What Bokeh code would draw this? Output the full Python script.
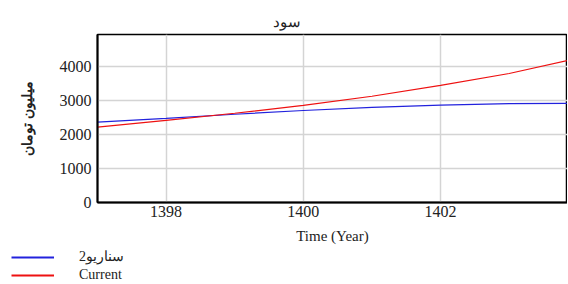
from bokeh.plotting import figure
from bokeh.models import Legend, LegendItem, FixedTicker, Range1d, Title
from bokeh.layouts import column, row
from bokeh.embed import file_html
from bokeh.resources import INLINE

years = [1397, 1398, 1399, 1400, 1401, 1402, 1403, 1404]
scenario2 = [2370, 2480, 2600, 2710, 2800, 2870, 2915, 2920]
current = [2220, 2420, 2630, 2860, 3130, 3450, 3800, 4250]
x_ticks = [1398, 1400, 1402]
y_ticks = [0, 1000, 2000, 3000, 4000]
title_text = "سود"
y_label = "میلیون تومان"
x_label = "Time (Year)"
series_names = ["سناریو2", "Current"]
series_colors = ["#2222dd", "#ee1111"]

FONT = "Liberation Serif"

p = figure(width=567, height=250, output_backend="svg", toolbar_location=None,
           x_range=Range1d(1397, 1403.85), y_range=Range1d(0, 4950),
           min_border_left=97, min_border_right=0, min_border_top=34, min_border_bottom=48)
p.title = None
t = Title(text=title_text, align="left", offset=175, text_font=FONT,
          text_font_size="15px", text_font_style="normal", text_color="#222222")
p.add_layout(t, "above")

p.line(years, scenario2, line_color=series_colors[0], line_width=1.2)
p.line(years, current, line_color=series_colors[1], line_width=1.2)

p.xaxis.ticker = FixedTicker(ticks=x_ticks)
p.yaxis.ticker = FixedTicker(ticks=y_ticks)
for ax in (p.xaxis[0], p.yaxis[0]):
    ax.major_tick_in = 0
    ax.major_tick_out = 0
    ax.minor_tick_in = 0
    ax.minor_tick_out = 0
    ax.axis_line_width = 2
    ax.axis_line_color = "black"
    ax.major_label_text_font = FONT
    ax.major_label_text_font_size = "16px"
    ax.major_label_text_color = "#222222"
    ax.axis_label_text_font = FONT
    ax.axis_label_text_font_style = "normal"
    ax.axis_label_text_color = "#222222"

p.xaxis.axis_label = x_label
p.xaxis.axis_label_text_font_size = "15px"
p.xaxis.major_label_standoff = 3
p.xaxis.axis_label_standoff = 8
p.yaxis.axis_label = y_label
p.yaxis.axis_label_text_font_size = "14px"
p.yaxis.axis_label_text_font_style = "bold"
p.yaxis.major_label_standoff = 6
p.yaxis.axis_label_standoff = 22

p.xgrid.grid_line_color = "#d4d4d4"
p.ygrid.grid_line_color = "#d4d4d4"
p.xgrid.grid_line_width = 1.5
p.ygrid.grid_line_width = 1.5
p.outline_line_color = "black"
p.outline_line_width = 1.5

# legend strip below the chart (series drawn out of its visible range)
lg = figure(width=567, height=33, output_backend="svg", toolbar_location=None,
            x_range=Range1d(0, 1), y_range=Range1d(0, 1),
            min_border_left=0, min_border_right=0, min_border_top=0, min_border_bottom=0,
            x_axis_type=None, y_axis_type=None)
lg.title = None
lg.grid.visible = False
lg.outline_line_color = None
d1 = lg.line(years, scenario2, line_color=series_colors[0], line_width=2)
d2 = lg.line(years, current, line_color=series_colors[1], line_width=2)
legend = Legend(items=[LegendItem(label=series_names[0], renderers=[d1]),
                       LegendItem(label=series_names[1], renderers=[d2])],
                location=(11, 0), orientation="vertical",
                glyph_width=43, glyph_height=14, label_height=14, label_standoff=25,
                spacing=2, padding=0, margin=0,
                label_text_font=FONT, label_text_font_size="14px", label_text_color="#222222",
                background_fill_alpha=0, border_line_alpha=0)
lg.add_layout(legend, "center")

layout = column(p, row(lg, spacing=0), spacing=0)
open("out.html", "w").write(file_html(layout, INLINE))
